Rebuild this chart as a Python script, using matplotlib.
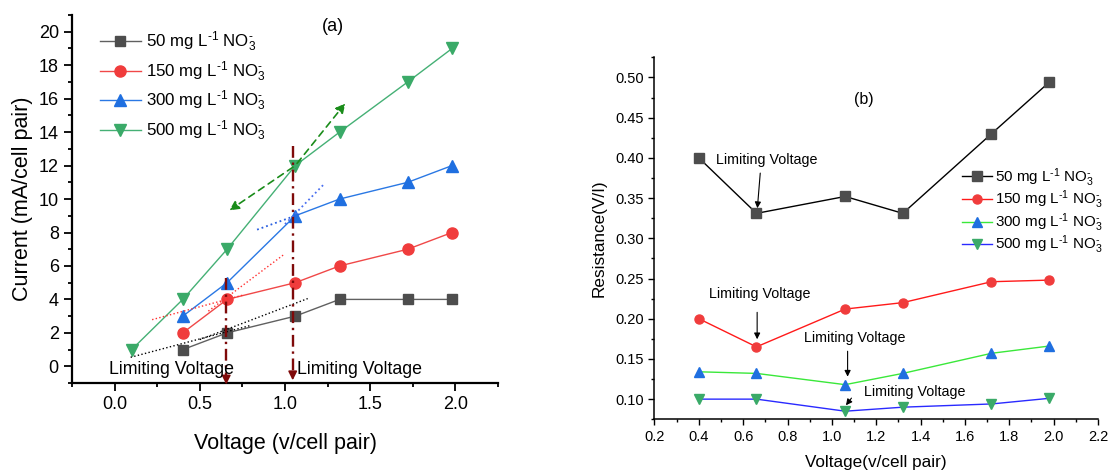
import matplotlib
matplotlib.use("Agg")
import matplotlib.pyplot as plt
from matplotlib.ticker import MultipleLocator

plt.rcParams['font.family'] = ['Liberation Sans', 'DejaVu Sans']
plt.rcParams['mathtext.fontset'] = 'custom'
plt.rcParams['mathtext.rm'] = 'Liberation Sans'
plt.rcParams['mathtext.it'] = 'Liberation Sans:italic'

# data, panel (a)
volt = [0.4, 0.66, 1.06, 1.32, 1.72, 1.98]
volt500 = [0.1, 0.4, 0.66, 1.06, 1.32, 1.72, 1.98]
cur50 = [1, 2, 3, 4, 4, 4]
cur150 = [2, 4, 5, 6, 7, 8]
cur300 = [3, 5, 9, 10, 11, 12]
cur500 = [1, 4, 7, 12, 14, 17, 19]

# data, panel (b)
res50 = [0.400, 0.331, 0.352, 0.331, 0.430, 0.494]
res150 = [0.200, 0.165, 0.212, 0.220, 0.246, 0.248]
res300 = [0.134, 0.132, 0.118, 0.132, 0.157, 0.166]
res500 = [0.100, 0.100, 0.085, 0.090, 0.094, 0.101]

labels = [r'50 mg L$^{\text{-}1}$ NO$_3^{\text{-}}$', r'150 mg L$^{\text{-}1}$ NO$_3^{\text{-}}$',
          r'300 mg L$^{\text{-}1}$ NO$_3^{\text{-}}$', r'500 mg L$^{\text{-}1}$ NO$_3^{\text{-}}$']

mk_col = ['#4d4d4d', '#f03c3c', '#1f6fe0', '#3aaa68']

fig = plt.figure(figsize=(11.08, 4.70), dpi=100)

# ---------------- panel (a) ----------------
ax1 = fig.add_axes([0.065, 0.185, 0.3845, 0.783])
ax1.plot(volt, cur50, '-s', color='#606060', mfc=mk_col[0], mec=mk_col[0], ms=7, lw=1, label=labels[0])
ax1.plot(volt, cur150, '-o', color='#f04848', mfc=mk_col[1], mec=mk_col[1], ms=8, lw=1, label=labels[1])
ax1.plot(volt, cur300, '-^', color='#2a78e4', mfc=mk_col[2], mec=mk_col[2], ms=8.5, lw=1, label=labels[2])
ax1.plot(volt500, cur500, '-v', color='#45b075', mfc=mk_col[3], mec=mk_col[3], ms=8.5, lw=1, label=labels[3])

# tangent lines
ax1.plot([0.094, 0.80], [0.54, 2.45], ':', color='black', lw=1)
ax1.plot([0.50, 1.133], [1.60, 4.05], ':', color='black', lw=1)
ax1.plot([0.22, 0.75], [2.79, 4.25], ':', color='#ff3030', lw=1)
ax1.plot([0.55, 0.993], [3.30, 6.68], ':', color='#ff3030', lw=1)
ax1.plot([0.836, 1.10], [8.17, 9.15], ':', color='#2a5fe0', lw=1.3)
ax1.plot([1.00, 1.223], [8.50, 10.83], ':', color='#4a6ff0', lw=1.3)

# green dashed arrows
for tx, ty in [(0.66, 9.23), (1.364, 15.85)]:
    ax1.annotate('', xy=(tx, ty), xytext=(1.06, 12.0),
                 arrowprops=dict(arrowstyle='-|>', color='#1a8c1a', lw=1.2,
                                 linestyle=(0, (4, 3)), mutation_scale=14))

# dark red vertical limiting lines
for xv, y0, y1 in [(0.655, 5.3, -1.25), (1.045, 13.15, -1.0)]:
    ax1.plot([xv, xv], [y0, y1 + 0.6], linestyle=(0, (5, 2, 1, 2)), color='#7f0a0a', lw=1.7, clip_on=False)
    ax1.annotate('', xy=(xv, y1), xytext=(xv, y1 + 0.7),
                 arrowprops=dict(arrowstyle='-|>', color='#7f0a0a', lw=1.2, mutation_scale=13),
                 annotation_clip=False)

ax1.text(-0.035, -0.2, 'Limiting Voltage', fontsize=12.8, va='center', ha='left')
ax1.text(1.07, -0.2, 'Limiting Voltage', fontsize=12.8, va='center', ha='left')
ax1.text(1.28, 20.3, '(a)', fontsize=13, va='center', ha='center')

ax1.set_xlim(-0.25, 2.25)
ax1.set_ylim(-1, 21)
ax1.xaxis.set_major_locator(MultipleLocator(0.5))
ax1.xaxis.set_minor_locator(MultipleLocator(0.25))
ax1.yaxis.set_minor_locator(MultipleLocator(1))
ax1.set_yticks(range(0, 21, 2))
ax1.tick_params(which='major', direction='out', length=6, width=1.3, labelsize=13)
ax1.tick_params(which='minor', direction='out', length=3, width=1.3)
for s in ['top', 'right']:
    ax1.spines[s].set_visible(False)
for s in ['left', 'bottom']:
    ax1.spines[s].set_linewidth(1.6)
ax1.set_xlabel('Voltage (v/cell pair)', fontsize=15.5, labelpad=14)
ax1.set_ylabel('Current (mA/cell pair)', fontsize=15.5, labelpad=4)
ax1.legend(loc='upper left', bbox_to_anchor=(100 / 1108, 1 - 30 / 470), bbox_transform=fig.transFigure,
           frameon=False, fontsize=12.2, handlelength=2.4, handletextpad=0.3,
           labelspacing=0.3, borderpad=0, borderaxespad=0)

# ---------------- panel (b) ----------------
ax2 = fig.add_axes([0.5907, 0.108, 0.4002, 0.770])
ax2.plot(volt, res50, '-s', color='black', mfc=mk_col[0], mec=mk_col[0], ms=6.5, lw=1, label=labels[0])
ax2.plot(volt, res150, '-o', color='#ff1a1a', mfc=mk_col[1], mec=mk_col[1], ms=6.5, lw=1, label=labels[1])
ax2.plot(volt, res300, '-^', color='#3ae83a', mfc=mk_col[2], mec=mk_col[2], ms=7, lw=1, label=labels[2])
ax2.plot(volt, res500, '-v', color='#2a2aff', mfc=mk_col[3], mec=mk_col[3], ms=7, lw=1, label=labels[3])

arrow_b = dict(arrowstyle='-|>', color='black', lw=0.8, mutation_scale=9)
ax2.text(0.478, 0.397, 'Limiting Voltage', fontsize=10.3, va='center', ha='left')
ax2.annotate('', xy=(0.663, 0.334), xytext=(0.678, 0.3845), arrowprops=arrow_b)
ax2.text(0.445, 0.2305, 'Limiting Voltage', fontsize=10.3, va='center', ha='left')
ax2.annotate('', xy=(0.663, 0.171), xytext=(0.663, 0.2114), arrowprops=arrow_b)
ax2.text(0.874, 0.1755, 'Limiting Voltage', fontsize=10.3, va='center', ha='left')
ax2.annotate('', xy=(1.071, 0.1245), xytext=(1.071, 0.163), arrowprops=arrow_b)
ax2.text(1.147, 0.1083, 'Limiting Voltage', fontsize=10.3, va='center', ha='left')
ax2.annotate('', xy=(1.056, 0.0896), xytext=(1.096, 0.104), arrowprops=arrow_b)
ax2.text(1.144, 0.4726, '(b)', fontsize=11.5, va='center', ha='center')

ax2.set_xlim(0.2, 2.2)
ax2.set_ylim(0.075, 0.525)
ax2.xaxis.set_major_locator(MultipleLocator(0.2))
ax2.xaxis.set_minor_locator(MultipleLocator(0.1))
ax2.set_yticks([0.10, 0.15, 0.20, 0.25, 0.30, 0.35, 0.40, 0.45, 0.50])
ax2.yaxis.set_minor_locator(MultipleLocator(0.025))
ax2.tick_params(which='major', direction='out', length=4, width=1, labelsize=10.5)
ax2.tick_params(which='minor', direction='out', length=2.5, width=1)
for s in ['top', 'right']:
    ax2.spines[s].set_visible(False)
for s in ['left', 'bottom']:
    ax2.spines[s].set_linewidth(1.1)
ax2.set_xlabel('Voltage(v/cell pair)', fontsize=12.3, labelpad=8)
ax2.set_ylabel('Resistance(V/I)', fontsize=12.3, labelpad=6)
ax2.legend(loc='upper left', bbox_to_anchor=(962 / 1108, 1 - 166 / 470), bbox_transform=fig.transFigure,
           frameon=False, fontsize=10.9, handlelength=2.0, handletextpad=0.2,
           labelspacing=0.0, borderpad=0, borderaxespad=0)

fig.savefig('out.png', dpi=100)
